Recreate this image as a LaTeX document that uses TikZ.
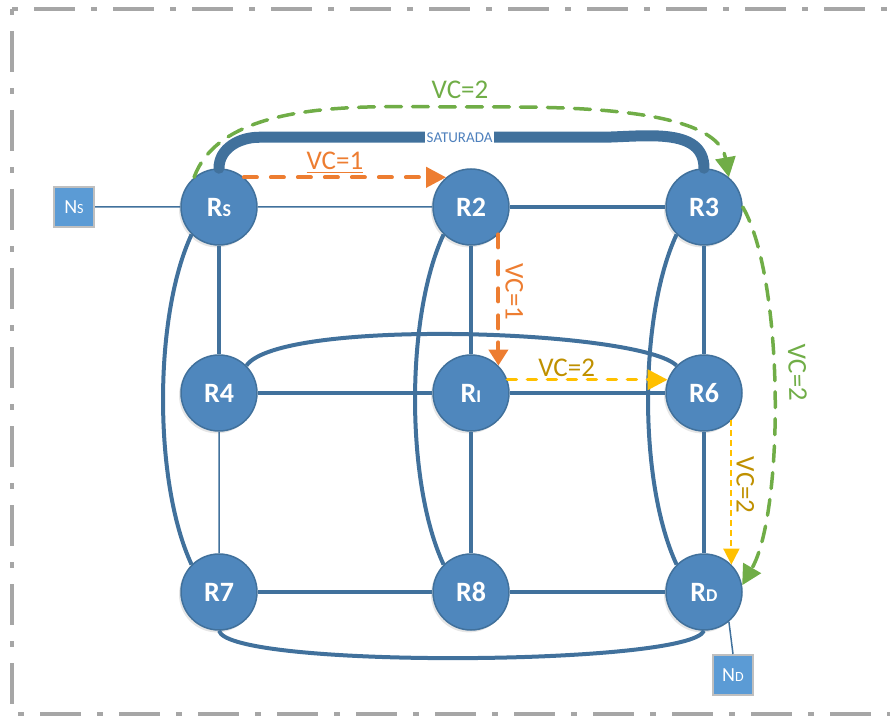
\documentclass[tikz,border=0pt]{standalone}
\usepackage{fontspec}
\setmainfont{Carlito}
\usetikzlibrary{arrows.meta,shadows}

\definecolor{routerfill}{HTML}{4F87BD}
\definecolor{routerline}{HTML}{41719C}
\definecolor{linkblue}{HTML}{41719C}
\definecolor{hostfill}{HTML}{5B9BD5}
\definecolor{hostline}{HTML}{BFBFBF}
\definecolor{satblue}{HTML}{4F81BD}
\definecolor{vcorange}{HTML}{ED7D31}
\definecolor{vcgreen}{HTML}{70AD47}
\definecolor{vcyellow}{HTML}{FFC000}
\definecolor{vcgold}{HTML}{BF9000}
\definecolor{framegray}{HTML}{A6A6A6}

% router and host names with a small trailing letter
\newcommand{\rname}[2]{#1{\fontsize{9}{10}\selectfont #2}}
\newcommand{\hname}[2]{#1{\fontsize{7}{8}\selectfont #2}}

\begin{document}
\begin{tikzpicture}[x=0.5pt,y=0.5pt,
  router/.style={circle,draw=routerline,line width=0.75pt,fill=routerfill,
    minimum size=38pt,inner sep=0pt,text=white,
    font=\fontsize{14}{16}\selectfont\bfseries,
    drop shadow={shadow xshift=-1pt,shadow yshift=-1.2pt,opacity=0.2}},
  host/.style={rectangle,draw=hostline,line width=1pt,fill=hostfill,
    minimum size=20pt,inner sep=0pt,text=white,font=\fontsize{10}{12}\selectfont},
  link/.style={linkblue,line width=2pt},
  thinlink/.style={linkblue,line width=0.75pt},
  saturated/.style={linkblue,line width=5.5pt,line cap=round},
  vc/.style={line width=2pt,line cap=round,-{Triangle[length=10pt,width=10pt]}},
  vclabel/.style={font=\fontsize{13.5}{15}\selectfont,inner sep=1pt},
  frame/.style={framegray,line width=2pt,dash pattern=on 3pt off 8pt on 20.5pt off 8pt}
]
\useasboundingbox (0,0) rectangle (890,-717);
\draw[frame] (12,-9) -- (890,-9);
\draw[frame] (12,-9) -- (12,-714) -- (890,-714);

\node[router] (Rs) at (219,-207) {\rname{R}{S}};
\node[router,right of=Rs,node distance=126pt] (R2) {R2};
\node[router,right of=R2,node distance=116.5pt] (R3) {R3};
\node[router,below of=Rs,node distance=93pt] (R4) {R4};
\node[router,below of=R2,node distance=93pt] (RI) {\rname{R}{I}};
\node[router,below of=R3,node distance=93pt] (R6) {R6};
\node[router,below of=R4,node distance=99.5pt] (R7) {R7};
\node[router,below of=RI,node distance=99.5pt] (R8) {R8};
\node[router,below of=R6,node distance=99.5pt] (RD) {\rname{R}{D}};
\node[host,left of=Rs,node distance=72.5pt] (Ns) {\hname{N}{S}};
\node[host] (ND) at (733,-675) {\hname{N}{D}};

\draw[thinlink] (Ns) -- (Rs) (Rs) -- (R2) (R4) -- (R7) (RD.-50) -- (ND.north);
\draw[link] (R2) -- (R3) (Rs) -- (R4) (R2) -- (RI) (RI) -- (R8)
  (R3) -- (R6) (R6) -- (RD) (R4) -- (RI) (RI) -- (R6)
  (R7) -- (R8) (R8) -- (RD);
\draw[link] (Rs.225) to[out=245,in=115,looseness=0.7] (R7.135)
  (R2.225) to[out=245,in=115,looseness=0.7] (R8.135)
  (R3.225) to[out=245,in=115,looseness=0.7] (RD.135)
  (R4.45) .. controls +(34,48) and +(-37,36) .. (R6.135)
  (R7.south) .. controls +(10,-38) and +(-14,-35) .. (RD.south);

\draw[saturated] (Rs.north) to[out=90,in=180] ++(40,31)
  -- node[pos=0.59,fill=white,inner sep=1pt,text=satblue,font=\fontsize{7.5}{8}\selectfont]{SATURADA} ++(340,0)
  to[out=0,in=90] (R3.north);

\draw[vc,vcorange,dash pattern=on 6.5pt off 7pt] (Rs.50) --
  node[vclabel,above,pos=0.45]{\underline{VC=1}} (R2.130);
\draw[vc,vcorange,dash pattern=on 6.5pt off 7pt,-{Triangle[length=8pt,width=9.5pt]}] (R2.-45) --
  node[vclabel,rotate=-90,anchor=south,inner sep=2.5pt,pos=0.44]{VC=1} (RI.45);
\draw[vc,vcyellow,line width=1.75pt,dash pattern=on 4.5pt off 5.5pt] (RI.20) --
  node[vclabel,above,inner sep=0.5pt,pos=0.37,text=vcgold]{VC=2} (R6.160);
\draw[vcyellow,line width=1pt,dash pattern=on 3pt off 2pt,-{Triangle[length=8pt,width=8pt]}] (R6.-45) --
  node[vclabel,rotate=-90,anchor=south,inner sep=2pt,pos=0.45,text=vcgold]{VC=2} (RD.45);
\draw[vc,vcgreen,line width=1.75pt,dash pattern=on 8pt off 5.5pt] (Rs.130) to[out=70,in=180,looseness=0.8] (460,-107)
  node[vclabel,above,inner sep=3.5pt]{VC=2} to[out=0,in=100,looseness=0.7] (R3.50);
\draw[vc,vcgreen,line width=1.75pt,dash pattern=on 8pt off 5.5pt] (R3.0) to[out=-60,in=60,looseness=0.57]
  node[vclabel,sloped,above,inner sep=6.5pt,pos=0.45]{VC=2} (RD.10);
\end{tikzpicture}
\end{document}
